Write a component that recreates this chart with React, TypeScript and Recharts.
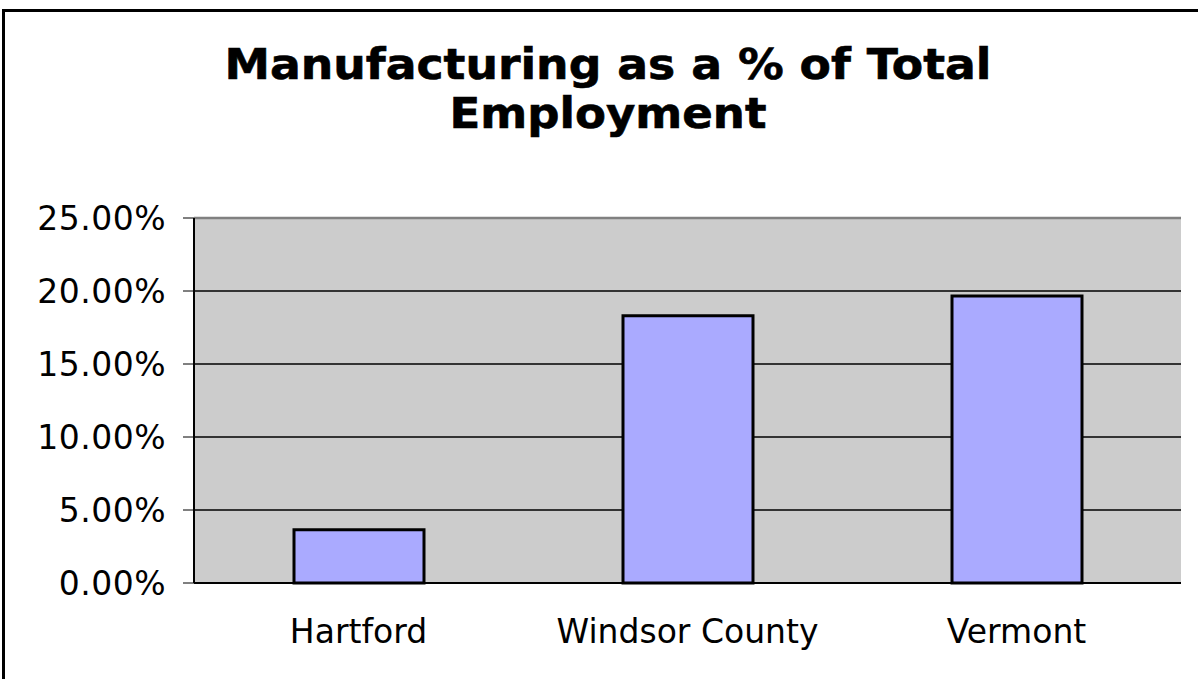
import { Bar, BarChart, CartesianGrid, ReferenceLine, XAxis, YAxis } from "recharts";

const categories = ["Hartford", "Windsor County", "Vermont"];
const shares = [0.0365, 0.183, 0.1965];
const yTicks = [0, 0.05, 0.1, 0.15, 0.2, 0.25];
const innerGrid = [0.05, 0.1, 0.15, 0.2];
const boundaryTicks = [0, 1, 2, 3];
const titleLines = ["Manufacturing as a % of Total", "Employment"];
const titleWidths = [767, 317];

const data = categories.map((name, i) => ({ name, value: shares[i] }));

const font = "'DejaVu Sans', Verdana, sans-serif";

export default function App() {
  return (
    <div
      style={{
        position: "absolute",
        left: 0,
        top: 0,
        width: 1198,
        height: 679,
        overflow: "hidden",
        background: "#fff",
        fontFamily: font,
      }}
    >
      <div
        style={{
          position: "absolute",
          left: 2,
          top: 9,
          width: 1300,
          height: 800,
          border: "3px solid #000",
          boxSizing: "border-box",
        }}
      />
      <svg width={1198} height={200} style={{ position: "absolute", left: 0, top: 0 }}>
        {titleLines.map((t, i) => (
          <text
            key={t}
            x={608}
            y={79 + i * 49}
            textAnchor="middle"
            fontFamily={font}
            fontWeight="bold"
            fontSize={42}
            textLength={titleWidths[i]}
            lengthAdjust="spacingAndGlyphs"
            stroke="#000"
            strokeWidth={0.6}
            fill="#000"
          >
            {t}
          </text>
        ))}
      </svg>
      <div style={{ position: "absolute", left: 0, top: 0 }}>
        <BarChart
          width={1198}
          height={679}
          data={data}
          margin={{ top: 218, right: 17, bottom: 36, left: 0 }}
        >
          <CartesianGrid
            xAxisId="cat"
            yAxisId="left"
            vertical={false}
            horizontalValues={innerGrid}
            fill="#CCCCCC"
            stroke="#000"
            strokeWidth={1.5}
            strokeOpacity={1}
          />
          <XAxis
            xAxisId="ticks"
            type="number"
            domain={[0, 3]}
            ticks={boundaryTicks}
            height={0}
            tick={false}
            axisLine={false}
            tickSize={11}
            tickLine={{ stroke: "#000", strokeWidth: 1 }}
          />
          <XAxis
            xAxisId="cat"
            dataKey="name"
            height={60}
            axisLine={{ stroke: "#000", strokeWidth: 2 }}
            tickLine={false}
            tickSize={0}
            tickMargin={37}
            tick={{ fontSize: 33, fill: "#000", fontFamily: font }}
            interval={0}
          />
          <YAxis
            yAxisId="left"
            width={194}
            domain={[0, 0.25]}
            ticks={yTicks}
            tickFormatter={(v: number) => `${(v * 100).toFixed(2)}%`}
            tick={{ fontSize: 33, fill: "#000", fontFamily: font, letterSpacing: 0.5 }}
            tickSize={11}
            tickMargin={17}
            tickLine={{ stroke: "#000", strokeWidth: 1 }}
            axisLine={{ stroke: "#000", strokeWidth: 2 }}
          />
          <ReferenceLine
            xAxisId="cat"
            yAxisId="left"
            y={0.25}
            stroke="#808080"
            strokeWidth={2.5}
          />
          <ReferenceLine
            xAxisId="ticks"
            yAxisId="left"
            x={3}
            stroke="#808080"
            strokeWidth={3}
          />
          <Bar
            xAxisId="cat"
            yAxisId="left"
            dataKey="value"
            barSize={130}
            fill="#AAAAFF"
            stroke="#000"
            strokeWidth={3}
            isAnimationActive={false}
          />
        </BarChart>
      </div>
    </div>
  );
}
